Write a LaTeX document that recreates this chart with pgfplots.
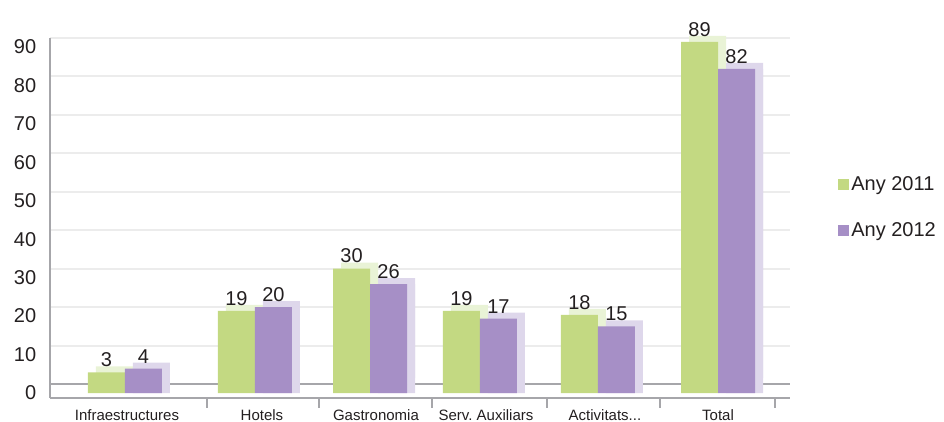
\documentclass[border=0pt]{standalone}
\usepackage{pgfplots}
\pgfplotsset{compat=1.18}
\usepackage{pgfplotstable}
\usepackage{fontspec}
\setmainfont{Liberation Sans}
\frenchspacing
\definecolor{gA}{RGB}{195,217,130}
\definecolor{gAl}{RGB}{233,243,214}
\definecolor{pB}{RGB}{166,143,198}
\definecolor{pBl}{RGB}{222,215,235}
\definecolor{gridc}{RGB}{236,236,236}
\definecolor{axc}{RGB}{166,166,170}
\definecolor{txt}{RGB}{35,31,32}

% x: category position, a: Any 2011, b: Any 2012, f: floor depth of the bars
\pgfplotstableread{
x a b f
0 3 4 -2.34
1.096 19 20 -2.34
2.066 30 26 -2.34
2.993 19 17 -2.34
3.988 18 15 -2.34
5 89 82 -2.34
}\data

\begin{document}
\begin{tikzpicture}
\path[use as bounding box] (0,0) rectangle (944pt,422pt);
\begin{axis}[
  at={(50pt,24pt)}, anchor=south west,
  scale only axis, width=740pt, height=360pt,
  xmin=-0.632, xmax=5.607, ymin=-3.64, ymax=90,
  clip=false,
  ytick={0,10,...,90},
  ymajorgrids, grid style={gridc, line width=2pt},
  axis x line*=bottom, axis y line*=left,
  axis line style={axc, line width=2pt},
  xtick={0.017,1.155,2.116,3.044,4.047,5.0},
  xticklabels={Infraestructures,Hotels,Gastronomia,{Serv.\ Auxiliars},{Activitats.{}.{}.},Total},
  major x tick style={draw=none},
  major y tick style={draw=none},
  minor xtick={0.69,1.64,2.59,3.56,4.51,5.48},
  minor x tick style={axc, line width=2pt},
  minor tick length=10pt, tick align=outside,
  /pgf/number format/assume math mode=true,
  yticklabel style={font=\fontsize{20}{24}\selectfont, text=txt, xshift=-6pt, yshift=-9pt},
  xticklabel style={font=\fontsize{15}{18}\selectfont, text=txt, yshift=-4pt},
  ybar, bar width=37pt,
  legend style={at={(1.061,0.53)}, anchor=west, draw=none, fill=none,
    font=\fontsize{20}{24}\selectfont, text=txt, row sep=27pt},
  legend cell align=left,
  legend image code/.code={\fill[#1] (0pt,-6pt) rectangle (11pt,5pt);},
]
% back floor edge
\draw[axc, line width=2pt] (axis cs:-0.632,0) -- (axis cs:5.607,0);
% depth faces
\addplot[fill=gAl, draw=none, bar shift=-10.5pt, yshift=6pt, forget plot] table[x=x,y=a]{\data};
\addplot[fill=pBl, draw=none, bar shift=26.5pt, yshift=6pt, forget plot] table[x=x,y=b]{\data};
\addplot[fill=pBl, draw=none, bar shift=26.5pt, forget plot] table[x=x,y=b]{\data};
\addplot[fill=pBl, draw=none, bar shift=26.5pt, forget plot] table[x=x,y=f]{\data};
% bar parts standing on the floor
\addplot[fill=gA, draw=none, bar shift=-18.5pt, forget plot] table[x=x,y=f]{\data};
\addplot[fill=pB, draw=none, bar shift=18.5pt, forget plot] table[x=x,y=f]{\data};
% front faces
\addplot[fill=gA, draw=none, bar shift=-18.5pt,
  nodes near coords, nodes near coords style={font=\fontsize{20}{24}\selectfont, text=txt, yshift=2pt}]
  table[x=x,y=a]{\data};
\addlegendentry{Any 2011}
\addplot[fill=pB, draw=none, bar shift=18.5pt,
  nodes near coords, nodes near coords style={font=\fontsize{20}{24}\selectfont, text=txt, yshift=2pt}]
  table[x=x,y=b]{\data};
\addlegendentry{Any 2012}
\end{axis}
\end{tikzpicture}
\end{document}
